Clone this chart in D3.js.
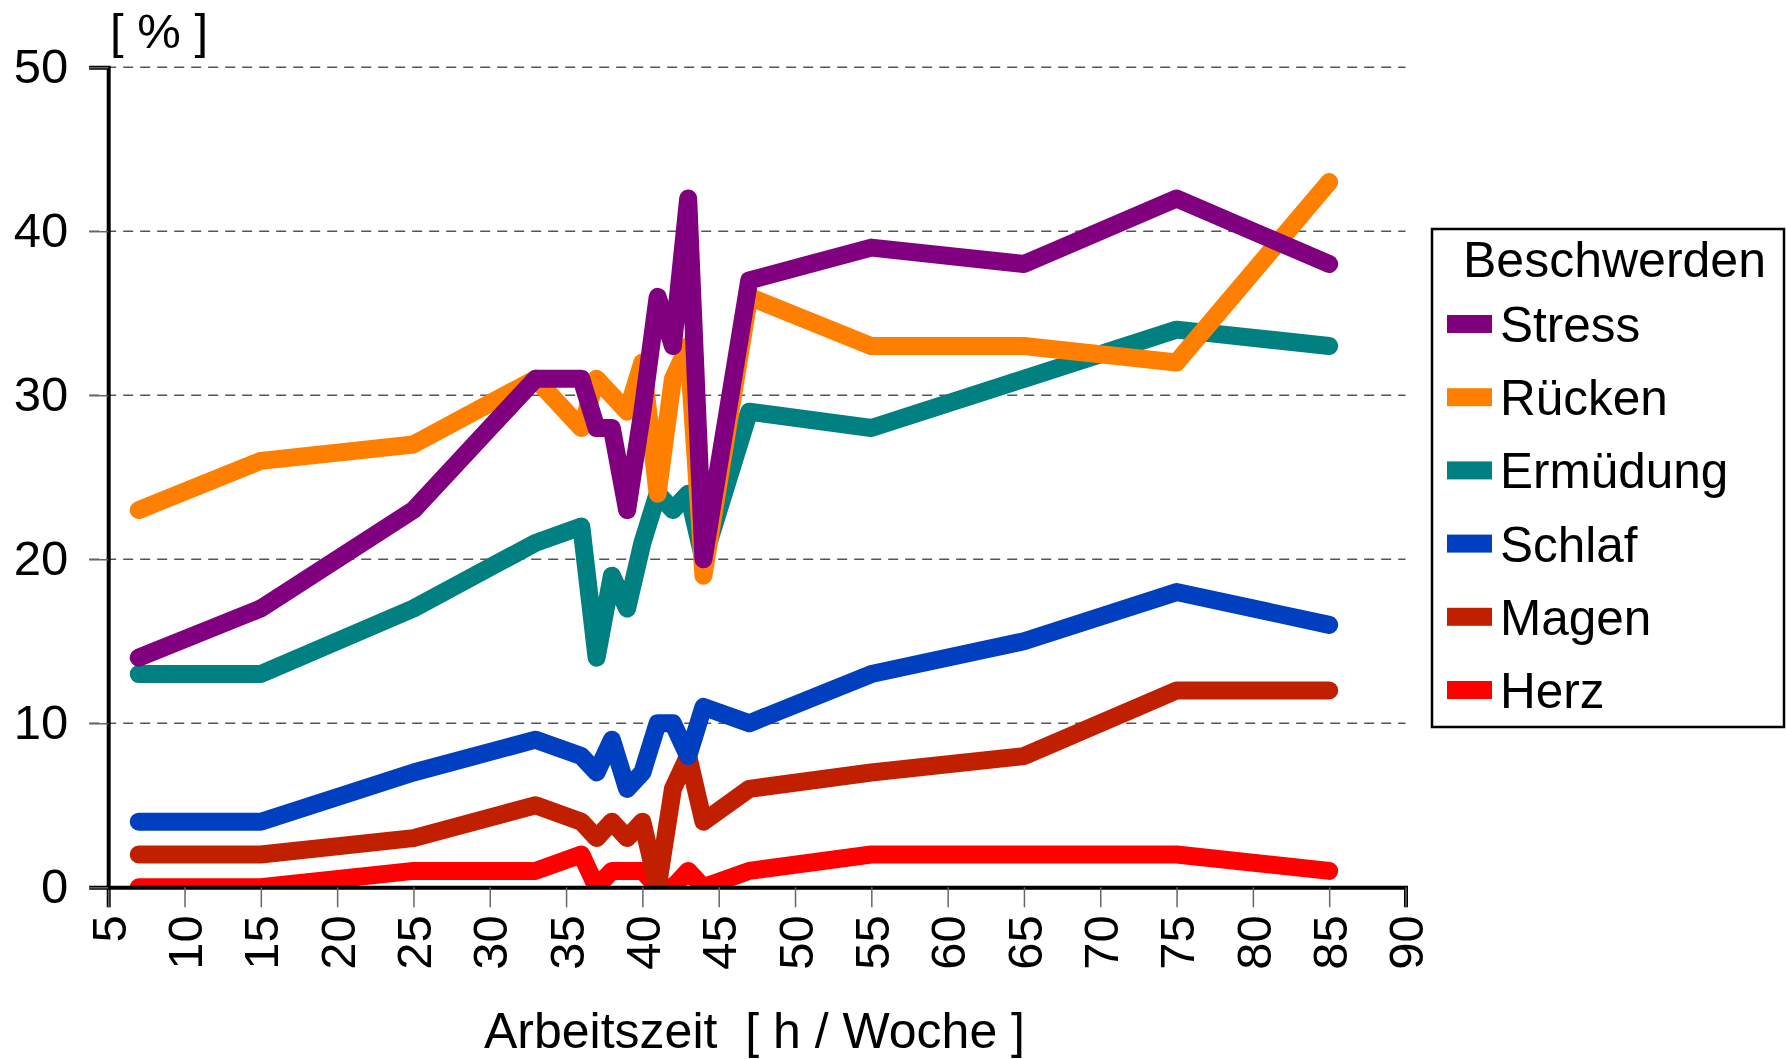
<!DOCTYPE html>
<html>
<head>
<meta charset="utf-8">
<script src="https://cdn.jsdelivr.net/npm/d3@7/dist/d3.min.js"></script>
<style>
  body { margin: 0; background: #fff; }
  svg { display: block; font-family: "Liberation Sans", Arial, sans-serif; }
</style>
</head>
<body>
<svg id="chart" width="1786" height="1059"></svg>
<script>
// hours per week (x) and complaint rates in percent
var hours     = [7, 15, 25, 33, 36, 37, 38, 39, 40, 41, 42, 43, 44, 47, 55, 65, 75, 85];
var stress    = [14, 17, 23, 31, 31, 28, 28, 23, 29, 36, 33, 42, 20, 37, 39, 38, 42, 38];
var ruecken   = [23, 26, 27, 31, 28, 31, 30, 29, 32, 24, 31, 33, 19, 36, 33, 33, 32, 43];
var ermuedung = [13, 13, 17, 21, 22, 14, 19, 17, 21, 24, 23, 24, 20, 29, 28, 31, 34, 33];
var schlaf    = [4, 4, 7, 9, 8, 7, 9, 6, 7, 10, 10, 8, 11, 10, 13, 15, 18, 16];
var magen     = [2, 2, 3, 5, 4, 3, 4, 3, 4, 0, 6, 8, 4, 6, 7, 8, 12, 12];
var herz      = [0, 0, 1, 1, 2, 0, 1, 1, 1, 0, 0, 1, 0, 1, 2, 2, 2, 1];

var seriesNames  = ["Stress", "Rücken", "Ermüdung", "Schlaf", "Magen", "Herz"];
var seriesValues = [stress, ruecken, ermuedung, schlaf, magen, herz];
var seriesColors = ["#800080", "#ff8000", "#008080", "#0040c0", "#c02000", "#ff0000"];

var xTicks = d3.range(5, 91, 5);
var yTicks = [0, 10, 20, 30, 40, 50];

var svg = d3.select("#chart");

var x = d3.scaleLinear().domain([5, 90]).range([108.2, 1405.5]);
var y = d3.scaleLinear().domain([0, 50]).range([887.3, 67.2]);

// dashed gridlines
svg.append("g")
    .selectAll("line")
    .data(yTicks.filter(function(d) { return d > 0; }))
    .enter()
    .append("line")
    .attr("x1", x(5) - 19)
    .attr("x2", x(90))
    .attr("y1", function(d) { return y(d); })
    .attr("y2", function(d) { return y(d); })
    .attr("stroke", "#555")
    .attr("stroke-width", 1.5)
    .attr("stroke-dasharray", "10,7");

// clip the lines to the plot area so values at 0 sit on the axis
svg.append("defs").append("clipPath")
    .attr("id", "plot-clip")
    .append("rect")
    .attr("x", x(5))
    .attr("y", 0)
    .attr("width", x(90) - x(5))
    .attr("height", y(0));

var line = d3.line()
    .x(function(d) { return x(d[0]); })
    .y(function(d) { return y(d[1]); });

// draw Herz first so Stress ends up on top
var lineGroup = svg.append("g").attr("clip-path", "url(#plot-clip)");
for (var i = seriesValues.length - 1; i >= 0; i--) {
  var pts = hours.map(function(h, j) { return [h, seriesValues[i][j]]; });
  lineGroup.append("path")
      .datum(pts)
      .attr("d", line)
      .attr("fill", "none")
      .attr("stroke", seriesColors[i])
      .attr("stroke-width", 18)
      .attr("stroke-linejoin", "round")
      .attr("stroke-linecap", "round");
}

// x axis
var xAxis = svg.append("g")
    .attr("transform", "translate(0," + y(0) + ")")
    .call(d3.axisBottom(x).tickValues(xTicks).tickSize(20).tickFormat(d3.format("d")));
xAxis.select(".domain").attr("stroke", "#000").attr("stroke-width", 4);
xAxis.selectAll(".tick line").attr("stroke", "#666").attr("stroke-width", 1.5);
xAxis.selectAll(".tick text")
    .attr("font-size", 49)
    .attr("fill", "#000")
    .attr("text-anchor", "end")
    .attr("x", 0)
    .attr("y", 0)
    .attr("dy", "0.35em")
    .attr("transform", "translate(0,28) rotate(-90)");

// y axis
var yAxis = svg.append("g")
    .attr("transform", "translate(" + x(5) + ",0)")
    .call(d3.axisLeft(y).tickValues(yTicks).tickSize(19).tickPadding(21));
yAxis.select(".domain").attr("stroke", "#000").attr("stroke-width", 4);
yAxis.selectAll(".tick line").attr("stroke", "#666").attr("stroke-width", 1.5);
yAxis.selectAll(".tick text")
    .attr("font-size", 49)
    .attr("fill", "#000");

// axis titles
svg.append("text")
    .attr("x", 110)
    .attr("y", 48)
    .attr("font-size", 49)
    .text("[ % ]");

svg.append("text")
    .attr("x", 484)
    .attr("y", 1048)
    .attr("font-size", 50)
    .attr("xml:space", "preserve")
    .style("white-space", "pre")
    .text("Arbeitszeit  [ h / Woche ]");

// legend
var legend = svg.append("g");
legend.append("rect")
    .attr("x", 1432)
    .attr("y", 229)
    .attr("width", 352)
    .attr("height", 498)
    .attr("fill", "#fff")
    .attr("stroke", "#000")
    .attr("stroke-width", 2.5);

legend.append("text")
    .attr("x", 1463)
    .attr("y", 277)
    .attr("font-size", 50)
    .text("Beschwerden");

var items = legend.selectAll("g.item")
    .data(seriesNames)
    .enter()
    .append("g")
    .attr("class", "item")
    .attr("transform", function(d, i) { return "translate(0," + (324 + i * 73.2) + ")"; });

items.append("rect")
    .attr("x", 1447)
    .attr("y", -9)
    .attr("width", 45)
    .attr("height", 18)
    .attr("fill", function(d, i) { return seriesColors[i]; });

items.append("text")
    .attr("x", 1500)
    .attr("y", 18)
    .attr("font-size", 49.5)
    .text(function(d) { return d; });
</script>
</body>
</html>
